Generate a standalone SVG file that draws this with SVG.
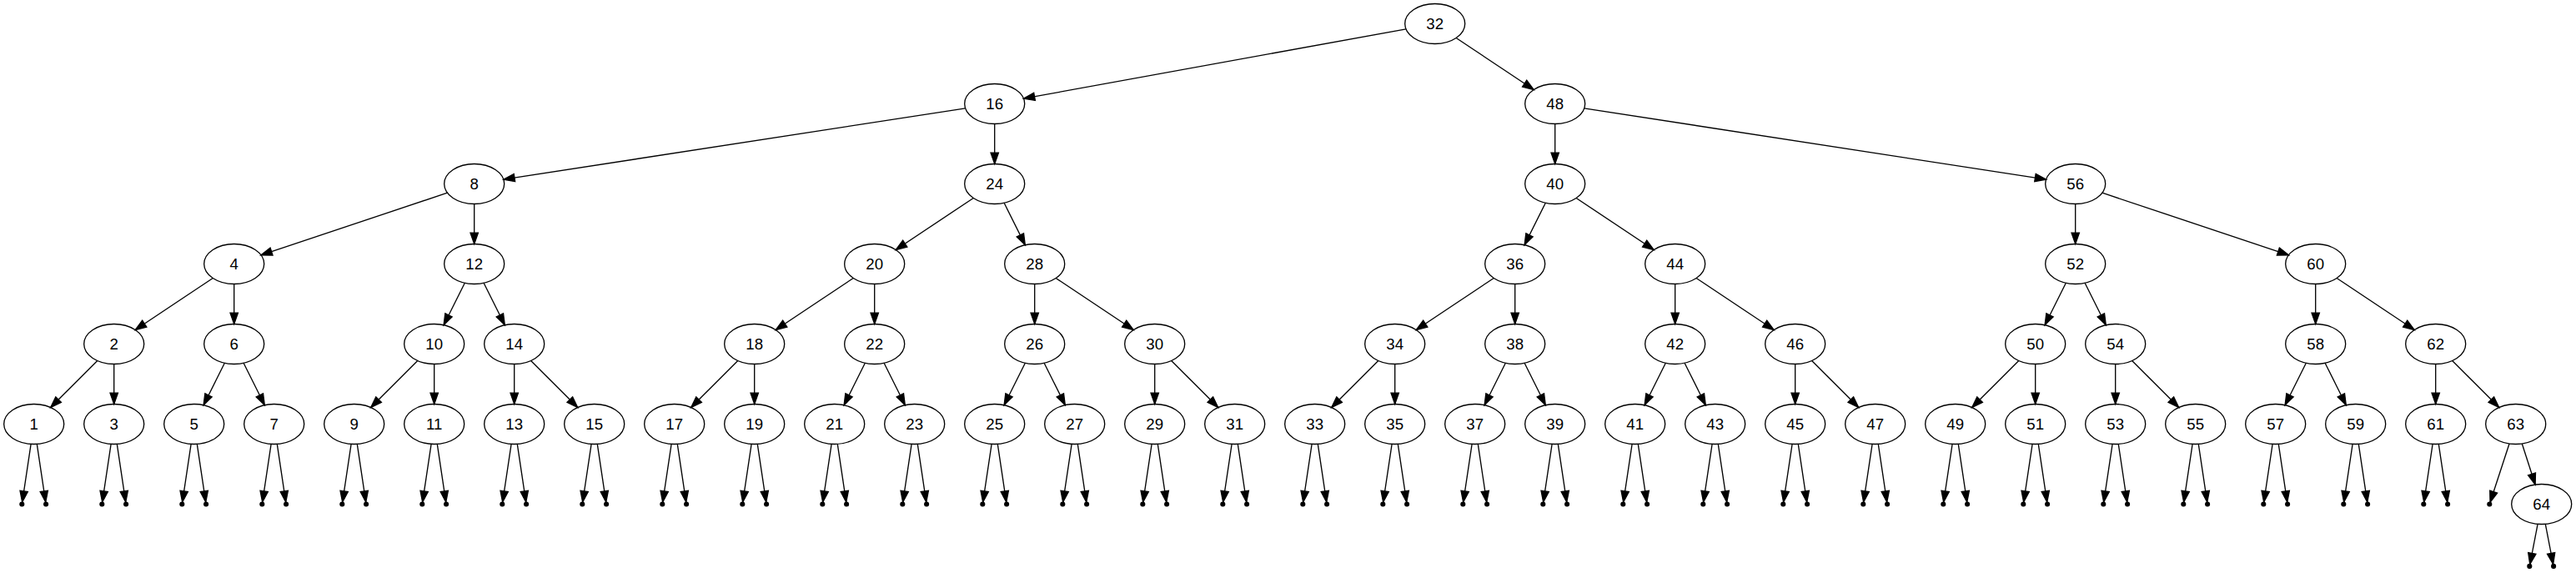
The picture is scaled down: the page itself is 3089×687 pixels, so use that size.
<svg xmlns="http://www.w3.org/2000/svg" width="3089" height="687" viewBox="0 0 3089 687">
<style>
.node ellipse{fill:none;stroke:#000;stroke-width:1.33}
.node text{font-family:"Liberation Sans",Arial,sans-serif;font-size:18.67px;text-anchor:middle;fill:#000}
.pt circle{fill:#000;stroke:#000;stroke-width:1.33}
#edges line{stroke:#000;stroke-width:1.33;fill:none;marker-end:url(#arr)}
</style>
<defs>
<marker id="arr" markerUnits="userSpaceOnUse" markerWidth="16" markerHeight="12" viewBox="0 -6 16 12" refX="13.33" refY="0" orient="auto" overflow="visible">
<path d="M0,-4.67 L13.33,0 L0,4.67 Z" fill="#000" stroke="#000" stroke-width="1.33"/>
</marker>
</defs>
<rect width="3089" height="687" fill="#fff"/>
<g id="edges">
<line x1="1685.97" y1="34.82" x2="1227.43" y2="118.18"/>
<line x1="1746.16" y1="45.47" x2="1839.24" y2="107.53"/>
<line x1="1157.62" y1="129.9" x2="603.78" y2="215.1"/>
<line x1="1192.7" y1="148.5" x2="1192.7" y2="196.5"/>
<line x1="1864.7" y1="148.5" x2="1864.7" y2="196.5"/>
<line x1="1899.78" y1="129.9" x2="2453.62" y2="215.1"/>
<line x1="536.5" y1="231.23" x2="312.9" y2="305.77"/>
<line x1="568.7" y1="244.5" x2="568.7" y2="292.5"/>
<line x1="1167.24" y1="237.47" x2="1074.16" y2="299.53"/>
<line x1="1204.08" y1="243.27" x2="1229.32" y2="293.73"/>
<line x1="1853.32" y1="243.27" x2="1828.08" y2="293.73"/>
<line x1="1890.16" y1="237.47" x2="1983.24" y2="299.53"/>
<line x1="2488.7" y1="244.5" x2="2488.7" y2="292.5"/>
<line x1="2520.9" y1="231.23" x2="2744.5" y2="305.77"/>
<line x1="255.24" y1="333.47" x2="162.16" y2="395.53"/>
<line x1="280.7" y1="340.5" x2="280.7" y2="388.5"/>
<line x1="557.32" y1="339.27" x2="532.08" y2="389.73"/>
<line x1="580.08" y1="339.27" x2="605.32" y2="389.73"/>
<line x1="1023.24" y1="333.47" x2="930.16" y2="395.53"/>
<line x1="1048.7" y1="340.5" x2="1048.7" y2="388.5"/>
<line x1="1240.7" y1="340.5" x2="1240.7" y2="388.5"/>
<line x1="1266.16" y1="333.47" x2="1359.24" y2="395.53"/>
<line x1="1791.24" y1="333.47" x2="1698.16" y2="395.53"/>
<line x1="1816.7" y1="340.5" x2="1816.7" y2="388.5"/>
<line x1="2008.7" y1="340.5" x2="2008.7" y2="388.5"/>
<line x1="2034.16" y1="333.47" x2="2127.24" y2="395.53"/>
<line x1="2477.32" y1="339.27" x2="2452.08" y2="389.73"/>
<line x1="2500.08" y1="339.27" x2="2525.32" y2="389.73"/>
<line x1="2776.7" y1="340.5" x2="2776.7" y2="388.5"/>
<line x1="2802.16" y1="333.47" x2="2895.24" y2="395.53"/>
<line x1="116.73" y1="432.47" x2="60.67" y2="488.53"/>
<line x1="136.7" y1="436.5" x2="136.7" y2="484.5"/>
<line x1="269.32" y1="435.27" x2="244.08" y2="485.73"/>
<line x1="292.08" y1="435.27" x2="317.32" y2="485.73"/>
<line x1="500.73" y1="432.47" x2="444.67" y2="488.53"/>
<line x1="520.7" y1="436.5" x2="520.7" y2="484.5"/>
<line x1="616.7" y1="436.5" x2="616.7" y2="484.5"/>
<line x1="636.67" y1="432.47" x2="692.73" y2="488.53"/>
<line x1="884.73" y1="432.47" x2="828.67" y2="488.53"/>
<line x1="904.7" y1="436.5" x2="904.7" y2="484.5"/>
<line x1="1037.32" y1="435.27" x2="1012.08" y2="485.73"/>
<line x1="1060.08" y1="435.27" x2="1085.32" y2="485.73"/>
<line x1="1229.32" y1="435.27" x2="1204.08" y2="485.73"/>
<line x1="1252.08" y1="435.27" x2="1277.32" y2="485.73"/>
<line x1="1384.7" y1="436.5" x2="1384.7" y2="484.5"/>
<line x1="1404.67" y1="432.47" x2="1460.73" y2="488.53"/>
<line x1="1652.73" y1="432.47" x2="1596.67" y2="488.53"/>
<line x1="1672.7" y1="436.5" x2="1672.7" y2="484.5"/>
<line x1="1805.32" y1="435.27" x2="1780.08" y2="485.73"/>
<line x1="1828.08" y1="435.27" x2="1853.32" y2="485.73"/>
<line x1="1997.32" y1="435.27" x2="1972.08" y2="485.73"/>
<line x1="2020.08" y1="435.27" x2="2045.32" y2="485.73"/>
<line x1="2152.7" y1="436.5" x2="2152.7" y2="484.5"/>
<line x1="2172.67" y1="432.47" x2="2228.73" y2="488.53"/>
<line x1="2420.73" y1="432.47" x2="2364.67" y2="488.53"/>
<line x1="2440.7" y1="436.5" x2="2440.7" y2="484.5"/>
<line x1="2536.7" y1="436.5" x2="2536.7" y2="484.5"/>
<line x1="2556.67" y1="432.47" x2="2612.73" y2="488.53"/>
<line x1="2765.32" y1="435.27" x2="2740.08" y2="485.73"/>
<line x1="2788.08" y1="435.27" x2="2813.32" y2="485.73"/>
<line x1="2920.7" y1="436.5" x2="2920.7" y2="484.5"/>
<line x1="2940.67" y1="432.47" x2="2996.73" y2="488.53"/>
<line x1="3024.28" y1="531.96" x2="3040.12" y2="581.04"/>
<line x1="3009.03" y1="531.95" x2="2986.05" y2="602.22"/>
<line x1="3043.09" y1="628.3" x2="3033.76" y2="676.54"/>
<line x1="3052.31" y1="628.3" x2="3061.64" y2="676.54"/>
<line x1="37.12" y1="532.38" x2="26.66" y2="602.13"/><line x1="44.28" y1="532.38" x2="54.74" y2="602.13"/>
<line x1="133.12" y1="532.38" x2="122.66" y2="602.13"/><line x1="140.28" y1="532.38" x2="150.74" y2="602.13"/>
<line x1="229.12" y1="532.38" x2="218.66" y2="602.13"/><line x1="236.28" y1="532.38" x2="246.74" y2="602.13"/>
<line x1="325.12" y1="532.38" x2="314.66" y2="602.13"/><line x1="332.28" y1="532.38" x2="342.74" y2="602.13"/>
<line x1="421.12" y1="532.38" x2="410.66" y2="602.13"/><line x1="428.28" y1="532.38" x2="438.74" y2="602.13"/>
<line x1="517.12" y1="532.38" x2="506.66" y2="602.13"/><line x1="524.28" y1="532.38" x2="534.74" y2="602.13"/>
<line x1="613.12" y1="532.38" x2="602.66" y2="602.13"/><line x1="620.28" y1="532.38" x2="630.74" y2="602.13"/>
<line x1="709.12" y1="532.38" x2="698.66" y2="602.13"/><line x1="716.28" y1="532.38" x2="726.74" y2="602.13"/>
<line x1="805.12" y1="532.38" x2="794.66" y2="602.13"/><line x1="812.28" y1="532.38" x2="822.74" y2="602.13"/>
<line x1="901.12" y1="532.38" x2="890.66" y2="602.13"/><line x1="908.28" y1="532.38" x2="918.74" y2="602.13"/>
<line x1="997.12" y1="532.38" x2="986.66" y2="602.13"/><line x1="1004.28" y1="532.38" x2="1014.74" y2="602.13"/>
<line x1="1093.12" y1="532.38" x2="1082.66" y2="602.13"/><line x1="1100.28" y1="532.38" x2="1110.74" y2="602.13"/>
<line x1="1189.12" y1="532.38" x2="1178.66" y2="602.13"/><line x1="1196.28" y1="532.38" x2="1206.74" y2="602.13"/>
<line x1="1285.12" y1="532.38" x2="1274.66" y2="602.13"/><line x1="1292.28" y1="532.38" x2="1302.74" y2="602.13"/>
<line x1="1381.12" y1="532.38" x2="1370.66" y2="602.13"/><line x1="1388.28" y1="532.38" x2="1398.74" y2="602.13"/>
<line x1="1477.12" y1="532.38" x2="1466.66" y2="602.13"/><line x1="1484.28" y1="532.38" x2="1494.74" y2="602.13"/>
<line x1="1573.12" y1="532.38" x2="1562.66" y2="602.13"/><line x1="1580.28" y1="532.38" x2="1590.74" y2="602.13"/>
<line x1="1669.12" y1="532.38" x2="1658.66" y2="602.13"/><line x1="1676.28" y1="532.38" x2="1686.74" y2="602.13"/>
<line x1="1765.12" y1="532.38" x2="1754.66" y2="602.13"/><line x1="1772.28" y1="532.38" x2="1782.74" y2="602.13"/>
<line x1="1861.12" y1="532.38" x2="1850.66" y2="602.13"/><line x1="1868.28" y1="532.38" x2="1878.74" y2="602.13"/>
<line x1="1957.12" y1="532.38" x2="1946.66" y2="602.13"/><line x1="1964.28" y1="532.38" x2="1974.74" y2="602.13"/>
<line x1="2053.12" y1="532.38" x2="2042.66" y2="602.13"/><line x1="2060.28" y1="532.38" x2="2070.74" y2="602.13"/>
<line x1="2149.12" y1="532.38" x2="2138.66" y2="602.13"/><line x1="2156.28" y1="532.38" x2="2166.74" y2="602.13"/>
<line x1="2245.12" y1="532.38" x2="2234.66" y2="602.13"/><line x1="2252.28" y1="532.38" x2="2262.74" y2="602.13"/>
<line x1="2341.12" y1="532.38" x2="2330.66" y2="602.13"/><line x1="2348.28" y1="532.38" x2="2358.74" y2="602.13"/>
<line x1="2437.12" y1="532.38" x2="2426.66" y2="602.13"/><line x1="2444.28" y1="532.38" x2="2454.74" y2="602.13"/>
<line x1="2533.12" y1="532.38" x2="2522.66" y2="602.13"/><line x1="2540.28" y1="532.38" x2="2550.74" y2="602.13"/>
<line x1="2629.12" y1="532.38" x2="2618.66" y2="602.13"/><line x1="2636.28" y1="532.38" x2="2646.74" y2="602.13"/>
<line x1="2725.12" y1="532.38" x2="2714.66" y2="602.13"/><line x1="2732.28" y1="532.38" x2="2742.74" y2="602.13"/>
<line x1="2821.12" y1="532.38" x2="2810.66" y2="602.13"/><line x1="2828.28" y1="532.38" x2="2838.74" y2="602.13"/>
<line x1="2917.12" y1="532.38" x2="2906.66" y2="602.13"/><line x1="2924.28" y1="532.38" x2="2934.74" y2="602.13"/>
</g>
<g id="nodes">
<g id="n32" class="node"><ellipse cx="1720.7" cy="28.5" rx="36" ry="24"/><text x="1720.7" y="34.9">32</text></g>
<g id="n16" class="node"><ellipse cx="1192.7" cy="124.5" rx="36" ry="24"/><text x="1192.7" y="130.9">16</text></g>
<g id="n48" class="node"><ellipse cx="1864.7" cy="124.5" rx="36" ry="24"/><text x="1864.7" y="130.9">48</text></g>
<g id="n8" class="node"><ellipse cx="568.7" cy="220.5" rx="36" ry="24"/><text x="568.7" y="226.9">8</text></g>
<g id="n24" class="node"><ellipse cx="1192.7" cy="220.5" rx="36" ry="24"/><text x="1192.7" y="226.9">24</text></g>
<g id="n40" class="node"><ellipse cx="1864.7" cy="220.5" rx="36" ry="24"/><text x="1864.7" y="226.9">40</text></g>
<g id="n56" class="node"><ellipse cx="2488.7" cy="220.5" rx="36" ry="24"/><text x="2488.7" y="226.9">56</text></g>
<g id="n4" class="node"><ellipse cx="280.7" cy="316.5" rx="36" ry="24"/><text x="280.7" y="322.9">4</text></g>
<g id="n12" class="node"><ellipse cx="568.7" cy="316.5" rx="36" ry="24"/><text x="568.7" y="322.9">12</text></g>
<g id="n20" class="node"><ellipse cx="1048.7" cy="316.5" rx="36" ry="24"/><text x="1048.7" y="322.9">20</text></g>
<g id="n28" class="node"><ellipse cx="1240.7" cy="316.5" rx="36" ry="24"/><text x="1240.7" y="322.9">28</text></g>
<g id="n36" class="node"><ellipse cx="1816.7" cy="316.5" rx="36" ry="24"/><text x="1816.7" y="322.9">36</text></g>
<g id="n44" class="node"><ellipse cx="2008.7" cy="316.5" rx="36" ry="24"/><text x="2008.7" y="322.9">44</text></g>
<g id="n52" class="node"><ellipse cx="2488.7" cy="316.5" rx="36" ry="24"/><text x="2488.7" y="322.9">52</text></g>
<g id="n60" class="node"><ellipse cx="2776.7" cy="316.5" rx="36" ry="24"/><text x="2776.7" y="322.9">60</text></g>
<g id="n2" class="node"><ellipse cx="136.7" cy="412.5" rx="36" ry="24"/><text x="136.7" y="418.9">2</text></g>
<g id="n6" class="node"><ellipse cx="280.7" cy="412.5" rx="36" ry="24"/><text x="280.7" y="418.9">6</text></g>
<g id="n10" class="node"><ellipse cx="520.7" cy="412.5" rx="36" ry="24"/><text x="520.7" y="418.9">10</text></g>
<g id="n14" class="node"><ellipse cx="616.7" cy="412.5" rx="36" ry="24"/><text x="616.7" y="418.9">14</text></g>
<g id="n18" class="node"><ellipse cx="904.7" cy="412.5" rx="36" ry="24"/><text x="904.7" y="418.9">18</text></g>
<g id="n22" class="node"><ellipse cx="1048.7" cy="412.5" rx="36" ry="24"/><text x="1048.7" y="418.9">22</text></g>
<g id="n26" class="node"><ellipse cx="1240.7" cy="412.5" rx="36" ry="24"/><text x="1240.7" y="418.9">26</text></g>
<g id="n30" class="node"><ellipse cx="1384.7" cy="412.5" rx="36" ry="24"/><text x="1384.7" y="418.9">30</text></g>
<g id="n34" class="node"><ellipse cx="1672.7" cy="412.5" rx="36" ry="24"/><text x="1672.7" y="418.9">34</text></g>
<g id="n38" class="node"><ellipse cx="1816.7" cy="412.5" rx="36" ry="24"/><text x="1816.7" y="418.9">38</text></g>
<g id="n42" class="node"><ellipse cx="2008.7" cy="412.5" rx="36" ry="24"/><text x="2008.7" y="418.9">42</text></g>
<g id="n46" class="node"><ellipse cx="2152.7" cy="412.5" rx="36" ry="24"/><text x="2152.7" y="418.9">46</text></g>
<g id="n50" class="node"><ellipse cx="2440.7" cy="412.5" rx="36" ry="24"/><text x="2440.7" y="418.9">50</text></g>
<g id="n54" class="node"><ellipse cx="2536.7" cy="412.5" rx="36" ry="24"/><text x="2536.7" y="418.9">54</text></g>
<g id="n58" class="node"><ellipse cx="2776.7" cy="412.5" rx="36" ry="24"/><text x="2776.7" y="418.9">58</text></g>
<g id="n62" class="node"><ellipse cx="2920.7" cy="412.5" rx="36" ry="24"/><text x="2920.7" y="418.9">62</text></g>
<g id="n1" class="node"><ellipse cx="40.7" cy="508.5" rx="36" ry="24"/><text x="40.7" y="514.9">1</text></g>
<g id="n3" class="node"><ellipse cx="136.7" cy="508.5" rx="36" ry="24"/><text x="136.7" y="514.9">3</text></g>
<g id="n5" class="node"><ellipse cx="232.7" cy="508.5" rx="36" ry="24"/><text x="232.7" y="514.9">5</text></g>
<g id="n7" class="node"><ellipse cx="328.7" cy="508.5" rx="36" ry="24"/><text x="328.7" y="514.9">7</text></g>
<g id="n9" class="node"><ellipse cx="424.7" cy="508.5" rx="36" ry="24"/><text x="424.7" y="514.9">9</text></g>
<g id="n11" class="node"><ellipse cx="520.7" cy="508.5" rx="36" ry="24"/><text x="520.7" y="514.9">11</text></g>
<g id="n13" class="node"><ellipse cx="616.7" cy="508.5" rx="36" ry="24"/><text x="616.7" y="514.9">13</text></g>
<g id="n15" class="node"><ellipse cx="712.7" cy="508.5" rx="36" ry="24"/><text x="712.7" y="514.9">15</text></g>
<g id="n17" class="node"><ellipse cx="808.7" cy="508.5" rx="36" ry="24"/><text x="808.7" y="514.9">17</text></g>
<g id="n19" class="node"><ellipse cx="904.7" cy="508.5" rx="36" ry="24"/><text x="904.7" y="514.9">19</text></g>
<g id="n21" class="node"><ellipse cx="1000.7" cy="508.5" rx="36" ry="24"/><text x="1000.7" y="514.9">21</text></g>
<g id="n23" class="node"><ellipse cx="1096.7" cy="508.5" rx="36" ry="24"/><text x="1096.7" y="514.9">23</text></g>
<g id="n25" class="node"><ellipse cx="1192.7" cy="508.5" rx="36" ry="24"/><text x="1192.7" y="514.9">25</text></g>
<g id="n27" class="node"><ellipse cx="1288.7" cy="508.5" rx="36" ry="24"/><text x="1288.7" y="514.9">27</text></g>
<g id="n29" class="node"><ellipse cx="1384.7" cy="508.5" rx="36" ry="24"/><text x="1384.7" y="514.9">29</text></g>
<g id="n31" class="node"><ellipse cx="1480.7" cy="508.5" rx="36" ry="24"/><text x="1480.7" y="514.9">31</text></g>
<g id="n33" class="node"><ellipse cx="1576.7" cy="508.5" rx="36" ry="24"/><text x="1576.7" y="514.9">33</text></g>
<g id="n35" class="node"><ellipse cx="1672.7" cy="508.5" rx="36" ry="24"/><text x="1672.7" y="514.9">35</text></g>
<g id="n37" class="node"><ellipse cx="1768.7" cy="508.5" rx="36" ry="24"/><text x="1768.7" y="514.9">37</text></g>
<g id="n39" class="node"><ellipse cx="1864.7" cy="508.5" rx="36" ry="24"/><text x="1864.7" y="514.9">39</text></g>
<g id="n41" class="node"><ellipse cx="1960.7" cy="508.5" rx="36" ry="24"/><text x="1960.7" y="514.9">41</text></g>
<g id="n43" class="node"><ellipse cx="2056.7" cy="508.5" rx="36" ry="24"/><text x="2056.7" y="514.9">43</text></g>
<g id="n45" class="node"><ellipse cx="2152.7" cy="508.5" rx="36" ry="24"/><text x="2152.7" y="514.9">45</text></g>
<g id="n47" class="node"><ellipse cx="2248.7" cy="508.5" rx="36" ry="24"/><text x="2248.7" y="514.9">47</text></g>
<g id="n49" class="node"><ellipse cx="2344.7" cy="508.5" rx="36" ry="24"/><text x="2344.7" y="514.9">49</text></g>
<g id="n51" class="node"><ellipse cx="2440.7" cy="508.5" rx="36" ry="24"/><text x="2440.7" y="514.9">51</text></g>
<g id="n53" class="node"><ellipse cx="2536.7" cy="508.5" rx="36" ry="24"/><text x="2536.7" y="514.9">53</text></g>
<g id="n55" class="node"><ellipse cx="2632.7" cy="508.5" rx="36" ry="24"/><text x="2632.7" y="514.9">55</text></g>
<g id="n57" class="node"><ellipse cx="2728.7" cy="508.5" rx="36" ry="24"/><text x="2728.7" y="514.9">57</text></g>
<g id="n59" class="node"><ellipse cx="2824.7" cy="508.5" rx="36" ry="24"/><text x="2824.7" y="514.9">59</text></g>
<g id="n61" class="node"><ellipse cx="2920.7" cy="508.5" rx="36" ry="24"/><text x="2920.7" y="514.9">61</text></g>
<g id="n63" class="node"><ellipse cx="3016.7" cy="508.5" rx="36" ry="24"/><text x="3016.7" y="514.9">63</text></g>
<g id="n64" class="node"><ellipse cx="3047.7" cy="604.5" rx="36" ry="24"/><text x="3047.7" y="610.9">64</text></g>
</g>
<g id="nulls">
<g id="p1l" class="pt"><circle cx="26.3" cy="604.5" r="2.4"/></g><g id="p1r" class="pt"><circle cx="55.1" cy="604.5" r="2.4"/></g>
<g id="p3l" class="pt"><circle cx="122.3" cy="604.5" r="2.4"/></g><g id="p3r" class="pt"><circle cx="151.1" cy="604.5" r="2.4"/></g>
<g id="p5l" class="pt"><circle cx="218.3" cy="604.5" r="2.4"/></g><g id="p5r" class="pt"><circle cx="247.1" cy="604.5" r="2.4"/></g>
<g id="p7l" class="pt"><circle cx="314.3" cy="604.5" r="2.4"/></g><g id="p7r" class="pt"><circle cx="343.1" cy="604.5" r="2.4"/></g>
<g id="p9l" class="pt"><circle cx="410.3" cy="604.5" r="2.4"/></g><g id="p9r" class="pt"><circle cx="439.1" cy="604.5" r="2.4"/></g>
<g id="p11l" class="pt"><circle cx="506.3" cy="604.5" r="2.4"/></g><g id="p11r" class="pt"><circle cx="535.1" cy="604.5" r="2.4"/></g>
<g id="p13l" class="pt"><circle cx="602.3" cy="604.5" r="2.4"/></g><g id="p13r" class="pt"><circle cx="631.1" cy="604.5" r="2.4"/></g>
<g id="p15l" class="pt"><circle cx="698.3" cy="604.5" r="2.4"/></g><g id="p15r" class="pt"><circle cx="727.1" cy="604.5" r="2.4"/></g>
<g id="p17l" class="pt"><circle cx="794.3" cy="604.5" r="2.4"/></g><g id="p17r" class="pt"><circle cx="823.1" cy="604.5" r="2.4"/></g>
<g id="p19l" class="pt"><circle cx="890.3" cy="604.5" r="2.4"/></g><g id="p19r" class="pt"><circle cx="919.1" cy="604.5" r="2.4"/></g>
<g id="p21l" class="pt"><circle cx="986.3" cy="604.5" r="2.4"/></g><g id="p21r" class="pt"><circle cx="1015.1" cy="604.5" r="2.4"/></g>
<g id="p23l" class="pt"><circle cx="1082.3" cy="604.5" r="2.4"/></g><g id="p23r" class="pt"><circle cx="1111.1" cy="604.5" r="2.4"/></g>
<g id="p25l" class="pt"><circle cx="1178.3" cy="604.5" r="2.4"/></g><g id="p25r" class="pt"><circle cx="1207.1" cy="604.5" r="2.4"/></g>
<g id="p27l" class="pt"><circle cx="1274.3" cy="604.5" r="2.4"/></g><g id="p27r" class="pt"><circle cx="1303.1" cy="604.5" r="2.4"/></g>
<g id="p29l" class="pt"><circle cx="1370.3" cy="604.5" r="2.4"/></g><g id="p29r" class="pt"><circle cx="1399.1" cy="604.5" r="2.4"/></g>
<g id="p31l" class="pt"><circle cx="1466.3" cy="604.5" r="2.4"/></g><g id="p31r" class="pt"><circle cx="1495.1" cy="604.5" r="2.4"/></g>
<g id="p33l" class="pt"><circle cx="1562.3" cy="604.5" r="2.4"/></g><g id="p33r" class="pt"><circle cx="1591.1" cy="604.5" r="2.4"/></g>
<g id="p35l" class="pt"><circle cx="1658.3" cy="604.5" r="2.4"/></g><g id="p35r" class="pt"><circle cx="1687.1" cy="604.5" r="2.4"/></g>
<g id="p37l" class="pt"><circle cx="1754.3" cy="604.5" r="2.4"/></g><g id="p37r" class="pt"><circle cx="1783.1" cy="604.5" r="2.4"/></g>
<g id="p39l" class="pt"><circle cx="1850.3" cy="604.5" r="2.4"/></g><g id="p39r" class="pt"><circle cx="1879.1" cy="604.5" r="2.4"/></g>
<g id="p41l" class="pt"><circle cx="1946.3" cy="604.5" r="2.4"/></g><g id="p41r" class="pt"><circle cx="1975.1" cy="604.5" r="2.4"/></g>
<g id="p43l" class="pt"><circle cx="2042.3" cy="604.5" r="2.4"/></g><g id="p43r" class="pt"><circle cx="2071.1" cy="604.5" r="2.4"/></g>
<g id="p45l" class="pt"><circle cx="2138.3" cy="604.5" r="2.4"/></g><g id="p45r" class="pt"><circle cx="2167.1" cy="604.5" r="2.4"/></g>
<g id="p47l" class="pt"><circle cx="2234.3" cy="604.5" r="2.4"/></g><g id="p47r" class="pt"><circle cx="2263.1" cy="604.5" r="2.4"/></g>
<g id="p49l" class="pt"><circle cx="2330.3" cy="604.5" r="2.4"/></g><g id="p49r" class="pt"><circle cx="2359.1" cy="604.5" r="2.4"/></g>
<g id="p51l" class="pt"><circle cx="2426.3" cy="604.5" r="2.4"/></g><g id="p51r" class="pt"><circle cx="2455.1" cy="604.5" r="2.4"/></g>
<g id="p53l" class="pt"><circle cx="2522.3" cy="604.5" r="2.4"/></g><g id="p53r" class="pt"><circle cx="2551.1" cy="604.5" r="2.4"/></g>
<g id="p55l" class="pt"><circle cx="2618.3" cy="604.5" r="2.4"/></g><g id="p55r" class="pt"><circle cx="2647.1" cy="604.5" r="2.4"/></g>
<g id="p57l" class="pt"><circle cx="2714.3" cy="604.5" r="2.4"/></g><g id="p57r" class="pt"><circle cx="2743.1" cy="604.5" r="2.4"/></g>
<g id="p59l" class="pt"><circle cx="2810.3" cy="604.5" r="2.4"/></g><g id="p59r" class="pt"><circle cx="2839.1" cy="604.5" r="2.4"/></g>
<g id="p61l" class="pt"><circle cx="2906.3" cy="604.5" r="2.4"/></g><g id="p61r" class="pt"><circle cx="2935.1" cy="604.5" r="2.4"/></g>
<g id="p63l" class="pt"><circle cx="2985.3" cy="604.5" r="2.4"/></g>
<g id="p64l" class="pt"><circle cx="3033.3" cy="678.9" r="2.4"/></g><g id="p64r" class="pt"><circle cx="3062.1" cy="678.9" r="2.4"/></g>
</g>
</svg>
